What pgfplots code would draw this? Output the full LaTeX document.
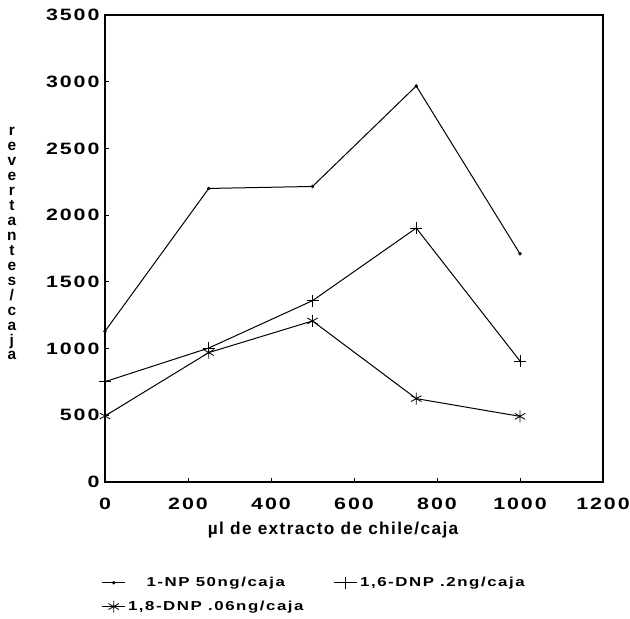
\documentclass[border=0pt]{standalone}
\usepackage{fontspec}
\setmainfont{Liberation Sans Bold}[FakeStretch=1.3, LetterSpace=12]
\newfontfamily\labelfont{Liberation Sans Bold}[LetterSpace=8]
\usepackage{pgfplots}
\pgfplotsset{compat=1.18}
\begin{document}
\begin{tikzpicture}
\begin{axis}[
  at={(0bp,0bp)}, anchor=south west,
  scale only axis, width=498bp, height=467bp,
  xmin=0, xmax=1200, ymin=0, ymax=3500,
  xtick={0,200,...,1200}, ytick={0,500,...,3500},
  tick align=inside, tick pos=left, major tick length=4bp,
  axis line style={line width=1.1bp},
  tick style={line width=0.9bp, black},
  /pgf/number format/assume math mode=true,
  /pgf/number format/1000 sep={},
  ticklabel style={font=\fontsize{16.5}{18}\selectfont},
  yticklabel style={xshift=-2bp},
  xticklabel style={yshift=-12bp},
  xlabel={\textmu l de extracto de chile/caja},
  xlabel style={at={(axis description cs:0.458,-0.103)}, anchor=center, font=\labelfont\fontsize{17.3}{18}\selectfont},
  ylabel={r\\e\\v\\e\\r\\t\\a\\n\\t\\e\\s\\/\\c\\a\\j\\a},
  ylabel style={rotate=-90, align=center, at={(axis description cs:-0.187,0.51)}, anchor=center, font=\labelfont\fontsize{15.5}{15}\selectfont},
  legend columns=2,
  legend style={draw=none, fill=none, at={(axis description cs:-0.013,-0.195)}, anchor=north west,
    font=\fontsize{13}{14}\selectfont, row sep=9bp,
    nodes={inner xsep=2.3bp},
    /tikz/every even column/.append style={column sep=28bp}},
  legend image code/.code={\draw[mark repeat=2,mark phase=2] plot coordinates {(0bp,0bp)(11.5bp,0bp)(23bp,0bp)};},
  every axis plot/.append style={black, line width=1bp, mark options={solid, line width=0.8bp}},
]
\addplot[mark=*, mark size=1.3bp] coordinates {(0,1130) (250,2200) (500,2215) (750,2968) (1000,1710)};
\addlegendentry{1-NP 50ng/caja}
\addplot[mark=+, mark size=6bp] coordinates {(0,752) (250,1004) (500,1359) (750,1903) (1000,907)};
\addlegendentry{1,6-DNP .2ng/caja}
\addplot[mark=asterisk, mark size=6bp] coordinates {(0,495) (250,970) (500,1207) (750,625) (1000,492)};
\addlegendentry{1,8-DNP .06ng/caja}
\end{axis}
\pgfresetboundingbox
\useasboundingbox (-105bp,-137bp) rectangle (525bp,482bp);
\end{tikzpicture}
\end{document}
